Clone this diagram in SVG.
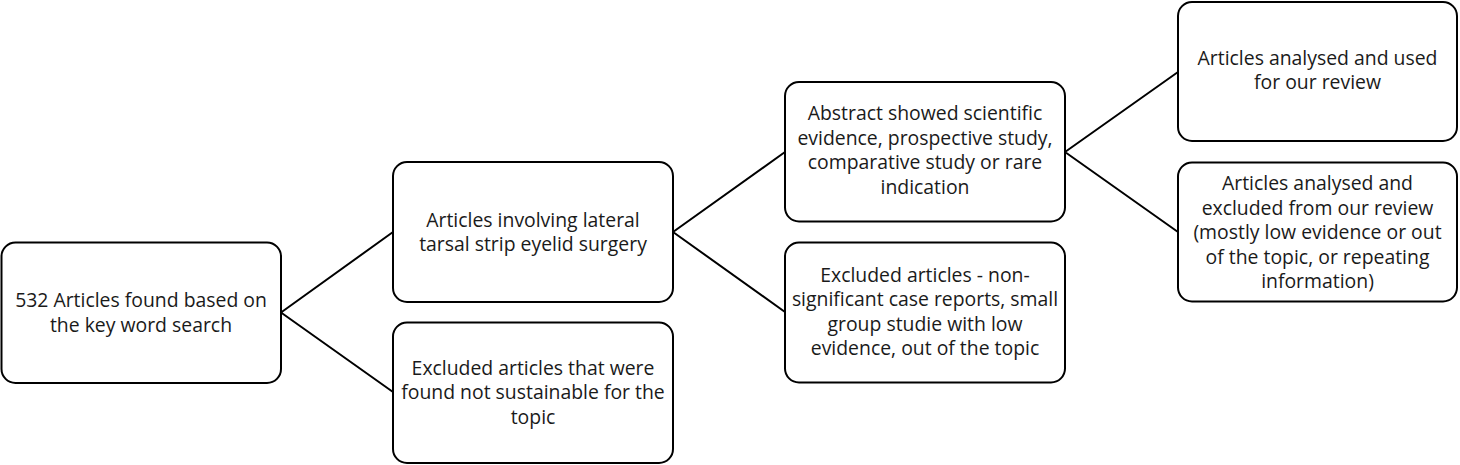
<svg xmlns="http://www.w3.org/2000/svg" width="1460" height="465" viewBox="0 0 1460 465">
<style>
.box{fill:#fff;stroke:#000;stroke-width:2}
.t{font-family:"Open Sans","Noto Sans",sans-serif;font-size:19.4px;fill:#1a1a1a;text-anchor:middle}
.c{stroke:#000;stroke-width:2;fill:none}
</style>
<rect width="1460" height="465" fill="#fff"/>
<g id="connectors">
<path class="c" d="M281,312.5 L393,232 M281,312.5 L393,392"/>
<path class="c" d="M673,232 L785,152 M673,232 L785,312"/>
<path class="c" d="M1065,152 L1178,72 M1065,152 L1178,232"/>
</g>
<g id="n1">
<rect class="box" x="1.5" y="242.5" width="279.5" height="140.5" rx="14"/>
<text class="t" x="141" y="307">532 Articles found based on</text>
<text class="t" x="141" y="331.5">the key word search</text>
</g>
<g id="n2">
<rect class="box" x="393" y="162" width="280" height="140" rx="14"/>
<text class="t" x="533" y="226.5">Articles involving lateral</text>
<text class="t" x="533" y="251">tarsal strip eyelid surgery</text>
</g>
<g id="n3">
<rect class="box" x="393" y="322.5" width="280" height="140.5" rx="14"/>
<text class="t" x="533" y="374.5">Excluded articles that were</text>
<text class="t" x="533" y="399">found not sustainable for the</text>
<text class="t" x="533" y="423.5">topic</text>
</g>
<g id="n4">
<rect class="box" x="785" y="82" width="280" height="139.5" rx="14"/>
<text class="t" x="925" y="120">Abstract showed scientific</text>
<text class="t" x="925" y="144.5">evidence, prospective study,</text>
<text class="t" x="925" y="169">comparative study or rare</text>
<text class="t" x="925" y="193.5">indication</text>
</g>
<g id="n5">
<rect class="box" x="785" y="242.5" width="280" height="140" rx="14"/>
<text class="t" x="925" y="281.5">Excluded articles - non-</text>
<text class="t" x="925" y="306">significant case reports, small</text>
<text class="t" x="925" y="330.5">group studie with low</text>
<text class="t" x="925" y="355">evidence, out of the topic</text>
</g>
<g id="n6">
<rect class="box" x="1178" y="2" width="279" height="139" rx="14"/>
<text class="t" x="1317.5" y="64.5">Articles analysed and used</text>
<text class="t" x="1317.5" y="89">for our review</text>
</g>
<g id="n7">
<rect class="box" x="1178" y="162.5" width="279" height="139" rx="14"/>
<text class="t" x="1317.5" y="190">Articles analysed and</text>
<text class="t" x="1317.5" y="214.5">excluded from our review</text>
<text class="t" x="1317.5" y="239">(mostly low evidence or out</text>
<text class="t" x="1317.5" y="263.5">of the topic, or repeating</text>
<text class="t" x="1317.5" y="288">information)</text>
</g>
</svg>
